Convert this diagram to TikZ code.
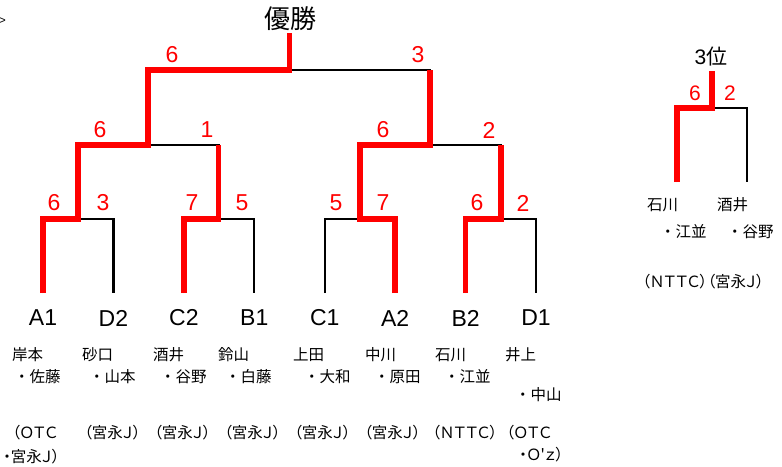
\documentclass[tikz,border=0pt]{standalone}
\usepackage{fontspec}
\setmainfont{Liberation Sans}
\newfontfamily\jpfont[CharacterWidth=AlternateProportional]{Noto Sans CJK JP}
\newfontfamily\jpname{Noto Sans CJK JP}

\begin{document}
\begin{tikzpicture}[
    x=1pt, y=-1pt,
    line/.style={line width=2.2pt, line join=miter},
    win/.style={line width=5.5pt, draw=red, line join=miter},
    seed/.style={inner sep=0pt, font=\fontsize{23}{26}\selectfont},
    score/.style={inner sep=0pt, text=red, font=\fontsize{23}{26}\selectfont},
    minor/.style={score, font=\fontsize{21}{24}\selectfont},
    player/.style={anchor=west, inner sep=0pt, font=\jpname\fontsize{15.5}{18}\selectfont},
    club/.style={anchor=west, inner sep=0pt, font=\jpfont\fontsize{15.5}{18}\selectfont},
    title/.style={inner sep=0pt, font=\fontsize{26}{30}\selectfont}
]
\useasboundingbox (0,0) rectangle (782,466);

% cut-off mark at the edge
\node[inner sep=0pt, anchor=east, font=\fontsize{12}{14}\selectfont] (edge) at (6,21.5) {>};

% Leaves
\foreach \n/\x in {A1/43, D2/113.4, C2/183.9, B1/254.3, C1/324.7, A2/395.2, B2/465.6, D1/536} {
    \coordinate (leaf\n) at (\x,293);
    \node[seed] (\n) at (\x,318) {\n};
}

% Junctions
\coordinate (m1) at (78,219);
\coordinate (m2) at (218.6,219);
\coordinate (m3) at (360,219);
\coordinate (m4) at (500.8,219);
\coordinate (s1) at (148,145);
\coordinate (s2) at (430,145);
\coordinate (fin) at (289.5,70);
\coordinate (top) at (289.5,33);

% Bracket
\draw[line] (leafA1) |- (m1) -| (leafD2);
\draw[line] (leafC2) |- (m2) -| (leafB1);
\draw[line] (leafC1) |- (m3) -| (leafA2);
\draw[line] (leafB2) |- (m4) -| (leafD1);
\draw[line] (m1) |- (s1) -| (m2);
\draw[line] (m3) |- (s2) -| (m4);
\draw[line] (s1) |- (fin) -| (s2);

% Winners
\draw[win] (leafA1) |- (m1) |- (s1) |- (fin) -- (top);
\draw[win] (leafC2) |- (m2) -- (m2 |- s1);
\draw[win] (leafA2) |- (m3) |- (s2) -- (s2 |- fin);
\draw[win] (leafB2) |- (m4) -- (m4 |- s2);

\node[title] (champ) at (290,18.5) {\jpname 優勝};

% Scores
\node[score] (r1a) at (54,203) {6};
\node[score] (r1b) at (103,203) {3};
\node[score] (r1c) at (192,203) {7};
\node[score] (r1d) at (242,203) {5};
\node[score] (r1e) at (336,203) {5};
\node[score] (r1f) at (383,203) {7};
\node[score] (r1g) at (477,203) {6};
\node[score] (r1h) at (523,203) {2};
\node[score] (r2a) at (100,130) {6};
\node[score] (r2b) at (207,130) {1};
\node[score] (r2c) at (383,130) {6};
\node[score] (r2d) at (489,130) {2};
\node[score] (r3a) at (172,55) {6};
\node[score] (r3b) at (418,55) {3};

% Players
\node[player] (p1a) at (12,355) {岸本};
\node[player] (p1b) at (14,377) {・佐藤};
\node[player] (p2a) at (82,355) {砂口};
\node[player] (p2b) at (89,377) {・山本};
\node[player] (p3a) at (153,355) {酒井};
\node[player] (p3b) at (160,377) {・谷野};
\node[player] (p4a) at (218,355) {鈴山};
\node[player] (p4b) at (225,377) {・白藤};
\node[player] (p5a) at (293,355) {上田};
\node[player] (p5b) at (304,377) {・大和};
\node[player] (p6a) at (365,355) {中川};
\node[player] (p6b) at (374,377) {・原田};
\node[player] (p7a) at (435,355) {石川};
\node[player] (p7b) at (444,377) {・江並};
\node[player] (p8a) at (505,355) {井上};
\node[player] (p8b) at (515,395) {・中山};

% Clubs
\node[club] (c1a) at (12,433) {（ＯＴＣ};
\node[club] (c1b) at (3,457) {・宮永Ｊ）};
\node[club] (c2) at (84,433) {（宮永Ｊ）};
\node[club] (c3) at (154,433) {（宮永Ｊ）};
\node[club] (c4) at (224,433) {（宮永Ｊ）};
\node[club] (c5) at (294,433) {（宮永Ｊ）};
\node[club] (c6) at (364,433) {（宮永Ｊ）};
\node[club] (c7) at (432,433) {（ＮＴＴＣ）};
\node[club] (c8a) at (506,433) {（ＯＴＣ};
\node[club] (c8b) at (519,455) {・Ｏ'ｚ）};

% Third place
\coordinate (t1) at (677,182);
\coordinate (t2) at (747,182);
\coordinate (tm) at (712,108);
\coordinate (ttop) at (712,71);
\draw[line] (t1) |- (tm) -| (t2);
\draw[win] (t1) |- (tm) -- (ttop);
\node[title, font=\fontsize{21}{24}\selectfont] (third) at (711,57) {3{\jpname 位}};
\node[minor] (t3a) at (695,93) {6};
\node[minor] (t3b) at (730,93) {2};
\node[player] (q1a) at (647,205) {石川};
\node[player] (q1b) at (660,232) {・江並};
\node[player] (q2a) at (717,205) {酒井};
\node[player] (q2b) at (727,232) {・谷野};
\node[club] (q3) at (642,282) {（ＮＴＴＣ）（宮永Ｊ）};

\end{tikzpicture}
\end{document}
